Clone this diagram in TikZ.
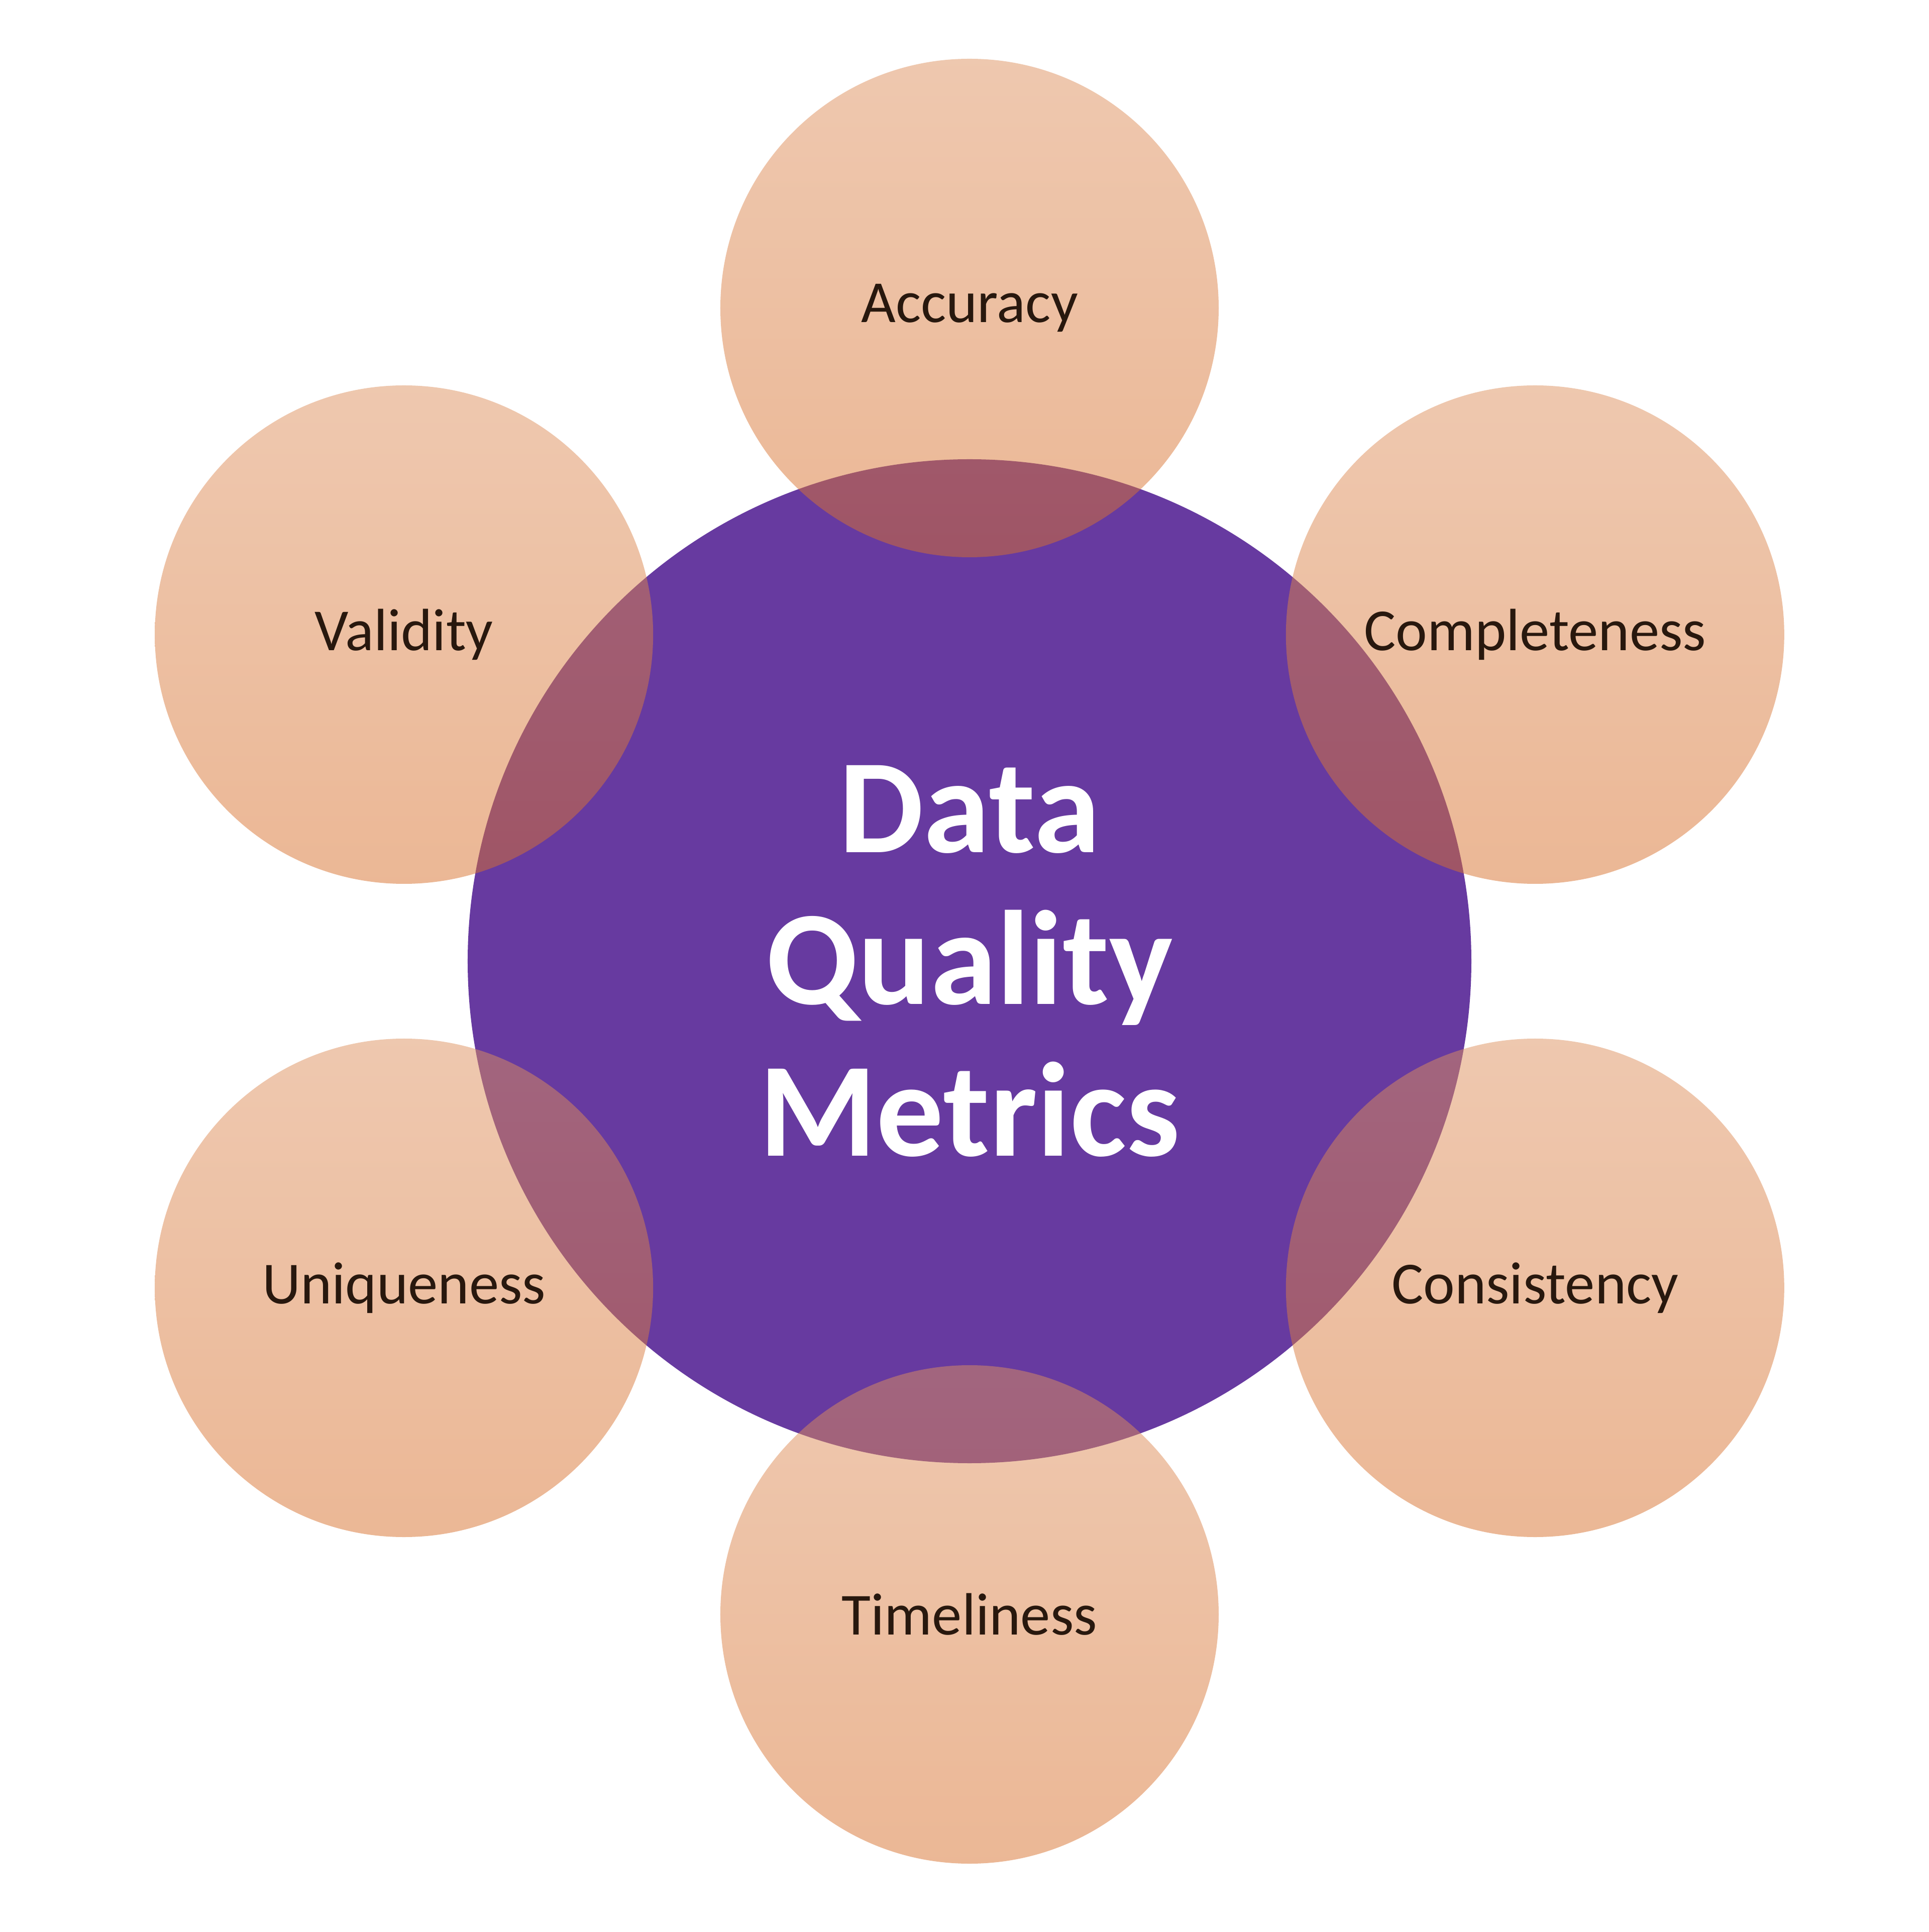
\documentclass[tikz,border=0pt]{standalone}
\usepackage{fontspec}
\setmainfont{Carlito}
\usepackage{xcolor}
\usepackage{tikz}
\usetikzlibrary{positioning}
\definecolor{hubcolor}{RGB}{103, 58, 160}
\definecolor{petaltop}{RGB}{222, 145, 95}
\definecolor{petalbottom}{RGB}{216, 112, 44}
\definecolor{labelcolor}{RGB}{40, 24, 14}

\begin{document}
\begin{tikzpicture}[
    hub/.style={circle, fill=hubcolor, minimum size=9.99cm, inner sep=0pt, align=center, text=white, font=\fontsize{38}{43}\selectfont\bfseries},
    metric/.style={circle, top color=petaltop, bottom color=petalbottom, fill opacity=0.5, text opacity=1, minimum size=4.96cm, inner sep=0pt, text=labelcolor, font=\fontsize{16.9}{20}\selectfont}
]
    \useasboundingbox (-9.65,-9.66) rectangle (9.55,9.565);

    % Centre
    \node[hub] (dq) at (0,0) {Data\\Quality\\Metrics};

    % Metrics round the centre
    \node[metric] (accuracy) at (90:6.5) {Accuracy};
    \node[metric] (completeness) at (30:6.5) {Completeness};
    \node[metric] (consistency) at (-30:6.5) {Consistency};
    \node[metric] (timeliness) at (-90:6.5) {Timeliness};
    \node[metric] (uniqueness) at (-150:6.5) {Uniqueness};
    \node[metric] (validity) at (150:6.5) {Validity};
\end{tikzpicture}
\end{document}
